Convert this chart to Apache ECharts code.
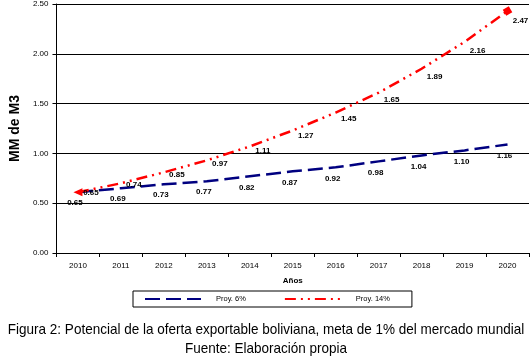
<!DOCTYPE html>
<html><head><meta charset="utf-8">
<script src="https://cdn.jsdelivr.net/npm/echarts@6/dist/echarts.min.js"></script>
<style>html,body{margin:0;padding:0;background:#fff}#c{width:532px;height:359px}</style>
</head><body><div id="c"></div>
<script>
const years = ['2010','2011','2012','2013','2014','2015','2016','2017','2018','2019','2020'];
// line positions as drawn in the picture
const proy6Line  = [0.61,0.65,0.69,0.72,0.77,0.82,0.86,0.92,0.98,1.03,1.09];
const proy14Line = [0.61,0.70,0.81,0.93,1.07,1.23,1.41,1.61,1.85,2.12,2.43];
// data label texts
const proy6Labels  = ['0.65','0.69','0.73','0.77','0.82','0.87','0.92','0.98','1.04','1.10','1.16'];
const proy14Labels = ['0.65','0.74','0.85','0.97','1.11','1.27','1.45','1.65','1.89','2.16','2.47'];
const yTicks = [0, 0.5, 1, 1.5, 2, 2.5];
const titleLines = ['Figura 2: Potencial de la oferta exportable boliviana, meta de 1% del mercado mundial','Fuente: Elaboración propia'];

const chart = echarts.init(document.getElementById('c'));
const FF = 'Liberation Sans, Arial, sans-serif';
const lblFont = {fontFamily:FF, fontSize:8, fontWeight:'bold', color:'#000'};
const TR = 'rgba(0,0,0,0)';
const blue6 = proy6Line.map(v=>({value:v}));
const red14 = proy14Line.map((v,i)=>{
  const o = {value:v, label:{offset:[13, 1 + i*0.9]}};
  if(i===0){o.symbol='triangle'; o.symbolSize=[8,9]; o.symbolRotate=90; o.itemStyle={color:'#ff0000'};}
  if(i===proy14Line.length-1){o.symbol='rect'; o.symbolSize=7; o.symbolRotate=30; o.itemStyle={color:'#ff0000'};}
  return o;
});
chart.setOption({
  animation:false,
  grid:{left:38, right:3, top:4, bottom:106},
  xAxis:{
    type:'category', data:years, boundaryGap:true,
    name:'Años', nameLocation:'middle', nameGap:24,
    nameTextStyle:{fontFamily:FF, fontSize:8, fontWeight:'bold', color:'#000'},
    axisLine:{lineStyle:{color:'#000', width:1}},
    axisTick:{show:true, interval:0, alignWithLabel:false, length:4, lineStyle:{color:'#000'}},
    axisLabel:{interval:0, margin:9, fontFamily:FF, fontSize:8, color:'#000'},
    splitLine:{show:false}
  },
  yAxis:{
    type:'value', min:0, max:2.5, interval:0.5,
    name:'MM de M3', nameLocation:'middle', nameGap:30, nameRotate:90,
    nameTextStyle:{fontFamily:FF, fontSize:14, fontWeight:'bold', color:'#000'},
    axisLine:{show:true, lineStyle:{color:'#000'}},
    axisTick:{show:true, length:4, lineStyle:{color:'#000'}},
    axisLabel:{margin:8, fontFamily:FF, fontSize:8, color:'#000',
      formatter:v=>yTicks.indexOf(v)>=0 ? v.toFixed(2) : ''},
    splitLine:{show:true, lineStyle:{color:'#000', width:1}}
  },
  legend:{
    left:133, top:291, itemWidth:56, itemHeight:10, itemGap:38,
    padding:[4, 22, 4, 11], borderColor:'#000', borderWidth:1,
    itemStyle:{color:TR, borderWidth:0},
    textStyle:{fontFamily:FF, fontSize:7.5, color:'#000', padding:[0,0,0,10]},
    data:['Proy. 6%','Proy. 14%']
  },
  series:[
    {name:'Proy. 6%', type:'line', data:blue6, symbol:'circle', symbolSize:1,
     lineStyle:{color:'#000080', width:2.5, type:[15,6]}, itemStyle:{color:TR},
     label:{show:true, position:'inside', offset:[-3,11], ...lblFont, formatter:p=>proy6Labels[p.dataIndex]},
     z:3},
    {name:'Proy. 14%', type:'line', data:red14, symbol:'circle', symbolSize:1, showSymbol:true,
     lineStyle:{color:'#ff0000', width:2.5, type:[11,5,2,5,2,5]}, itemStyle:{color:TR},
     label:{show:true, position:'inside', ...lblFont, formatter:p=>proy14Labels[p.dataIndex]},
     z:4}
  ],
  graphic:titleLines.map((t,i)=>({
    type:'text', x:266, y:[330,349][i], scaleX:0.9,
    style:{text:t, fontFamily:FF, fontSize:15, fill:'#000', textAlign:'center', textVerticalAlign:'middle'}
  }))
});
</script></body></html>
